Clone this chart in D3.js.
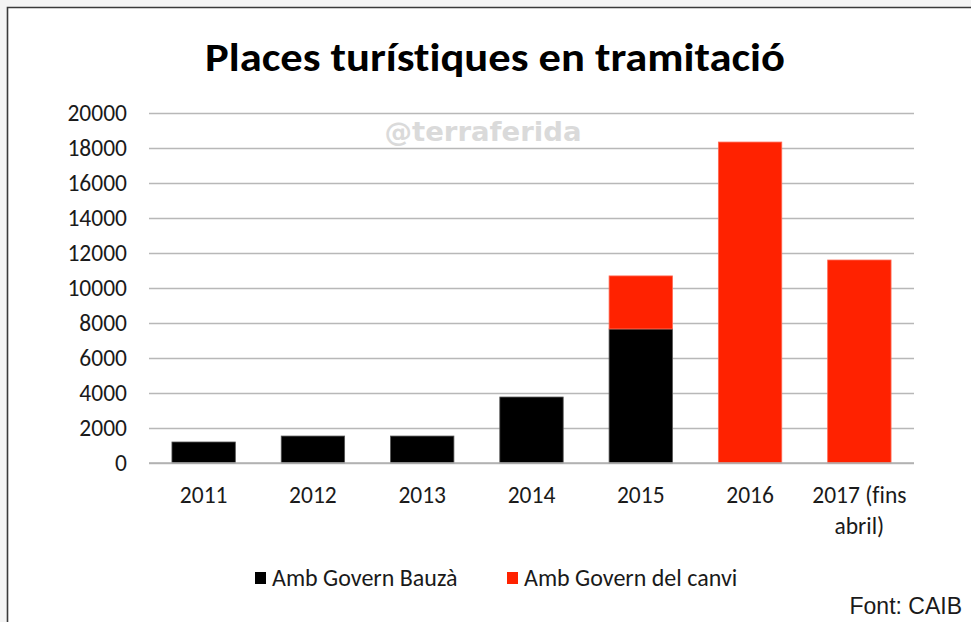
<!DOCTYPE html>
<html>
<head>
<meta charset="utf-8">
<script src="https://cdn.jsdelivr.net/npm/d3@7"></script>
<style>
  body { margin: 0; background: #fff; }
  text { font-family: Carlito, Calibri, "Open Sans", sans-serif; font-variant-ligatures: none; }
</style>
</head>
<body>
<div id="chart"></div>
<script>
let width = 971,
    height = 622,
    margin = ({ top: 113, right: 57, bottom: 159, left: 149 });

const years = ["2011", "2012", "2013", "2014", "2015", "2016", "2017 (fins abril)"];
const bauza = [1200, 1540, 1540, 3770, 7660, 0, 0];
const canvi = [0, 0, 0, 0, 3030, 18340, 11600];
const seriesNames = ["Amb Govern Bauzà", "Amb Govern del canvi"];
const yTicks = [0, 2000, 4000, 6000, 8000, 10000, 12000, 14000, 16000, 18000, 20000];
const colors = ["#000000", "#ff2200"];

const svg = d3.select("#chart")
    .append("svg")
    .attr("width", width)
    .attr("height", height)
    .attr("viewBox", [0, 0, width, height]);

// outer frame
svg.append("rect").attr("x", 0).attr("y", 0).attr("width", width).attr("height", 7).attr("fill", "#f4f4f4");
svg.append("rect").attr("x", 0).attr("y", 0).attr("width", 7).attr("height", height).attr("fill", "#f4f4f4");
svg.append("path")
    .attr("d", `M7.5,${height} V7.5 H${width}`)
    .attr("fill", "none")
    .attr("stroke", "#3a3a3a")
    .attr("stroke-width", 1.6);

let x = d3.scaleBand()
    .domain(years)
    .range([margin.left, width - margin.right])
    .paddingInner(0.42)
    .paddingOuter(0.21);

let y = d3.scaleLinear()
    .domain([0, 20000])
    .range([height - margin.bottom, margin.top]);

// gridlines + y labels
svg.append("g")
    .attr("transform", `translate(${margin.left},0)`)
    .attr("class", "y-axis")
    .call(d3.axisLeft(y).tickValues(yTicks).tickFormat(d3.format("d"))
        .tickSize(-(width - margin.left - margin.right)).tickPadding(22))
    .call(g => g.select(".domain").remove())
    .call(g => g.selectAll(".tick line").attr("stroke", "#b8b8b8").attr("stroke-width", 1.5))
    .call(g => g.selectAll(".tick text")
        .attr("fill", "#1a1a1a")
        .attr("font-size", 23.5)
        .style("font-family", "Carlito, Calibri, 'Open Sans', sans-serif"));

// watermark
svg.append("text")
    .attr("x", 483)
    .attr("y", 141)
    .attr("text-anchor", "middle")
    .attr("fill", "#dadada")
    .attr("font-size", 27)
    .attr("font-weight", "bold")
    .attr("textLength", 197)
    .attr("lengthAdjust", "spacingAndGlyphs")
    .style("font-family", "'DejaVu Sans', sans-serif")
    .text("@terraferida");

// stacked bars
const rows = years.map((yr, i) => ({ year: yr, bauza: bauza[i], canvi: canvi[i] }));
const stack = d3.stack().keys(["bauza", "canvi"])(rows);

svg.append("g")
    .selectAll("g")
    .data(stack)
    .join("g")
    .attr("fill", (d, i) => colors[i])
    .attr("stroke", (d, i) => i === 0 ? "#555" : "#ff6a55")
    .attr("stroke-width", 0.8)
    .selectAll("rect")
    .data(d => d.filter(s => s[1] - s[0] > 0))
    .join("rect")
    .attr("x", d => x(d.data.year))
    .attr("y", d => y(d[1]))
    .attr("width", x.bandwidth())
    .attr("height", d => y(d[0]) - y(d[1]));

// baseline
svg.append("line")
    .attr("x1", margin.left).attr("x2", width - margin.right)
    .attr("y1", y(0)).attr("y2", y(0))
    .attr("stroke", "#b0b0b0").attr("stroke-width", 1.5);

// x labels
const xl = svg.append("g")
    .selectAll("text")
    .data(years)
    .join("text")
    .attr("x", d => x(d) + x.bandwidth() / 2)
    .attr("y", 503)
    .attr("text-anchor", "middle")
    .attr("font-size", 23.5)
    .attr("fill", "#1a1a1a");
xl.each(function(d) {
    const parts = d === "2017 (fins abril)" ? ["2017 (fins", "abril)"] : [d];
    d3.select(this).selectAll("tspan")
        .data(parts)
        .join("tspan")
        .attr("x", x(d) + x.bandwidth() / 2)
        .attr("dy", (p, i) => i === 0 ? 0 : 31)
        .text(p => p);
});

// title
svg.append("text")
    .attr("x", 495)
    .attr("y", 71)
    .attr("text-anchor", "middle")
    .attr("font-size", 40)
    .attr("font-weight", "bold")
    .attr("fill", "#000")
    .attr("textLength", 580)
    .attr("lengthAdjust", "spacingAndGlyphs")
    .text("Places turístiques en tramitació");

// legend
const legend = svg.append("g")
    .selectAll("g")
    .data(seriesNames)
    .join("g")
    .attr("transform", (d, i) => `translate(${i === 0 ? 255 : 507},0)`);
legend.append("rect")
    .attr("x", 0).attr("y", 572)
    .attr("width", 11).attr("height", 12)
    .attr("fill", (d, i) => colors[i]);
legend.append("text")
    .attr("x", 17).attr("y", 586)
    .attr("font-size", 24)
    .attr("fill", "#1a1a1a")
    .text(d => d);

// source
svg.append("text")
    .attr("x", 962)
    .attr("y", 614)
    .attr("text-anchor", "end")
    .attr("font-size", 23)
    .attr("fill", "#1a1a1a")
    .style("font-family", "'Liberation Sans', Arial, sans-serif")
    .text("Font: CAIB");
</script>
</body>
</html>
